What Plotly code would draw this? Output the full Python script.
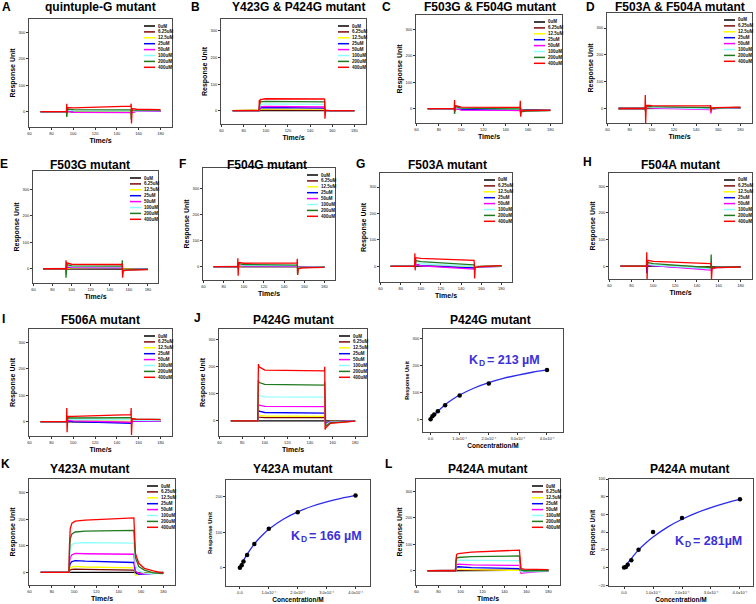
import plotly.graph_objects as go

W, H = 756, 604
FONT = "Liberation Sans, Arial, sans-serif"

# ---------------- data ----------------
CONC_LABELS = ["0uM", "6.25uM", "12.5uM", "25uM", "50uM", "100uM", "200uM", "400uM"]
LINE_COLORS = ["#000000", "#7a0a0a", "#ffff00", "#0000ff", "#ff00ff", "#8cffff", "#1f7a1f", "#ff0000"]

# time grids (s)
T_SPIKE = [70, 93.8, 94.1, 94.4, 95, 100, 152.8, 153.1, 153.4, 154, 158, 180]
T_KIN = [70, 95.4, 95.8, 96.5, 98, 101, 110, 153.6, 154.2, 155, 158, 163, 171, 180]

# response units, one row per concentration (0uM ... 400uM)
RU_QUINTUPLE_G = [
    [0, 0, 0, 0, 0, 0, -1, -1, -1, 0, 2, 3],
    [0, 0, 2, 0, 2, 2, 1, 1, 1, 1, 3, 4],
    [0, 0, 3, 1, 3, 2, 1, 1, 1, 1, 3, 4],
    [0, 0, 4, 1, 4, -2, -3, -3, -3, -2, 1, 2],
    [0, 0, 5, 0, 3, -3, -4, -6, -4, -2, 1, 2],
    [0, 0, 8, 0, 6, 4, 3, -5, 0, 2, 3, 4],
    [0, 0, -20, 10, 10, 8, 7, -30, 10, 6, 6, 6],
    [0, 0, 30, -5, 16, 14, 21, 30, -45, 12, 9, 8],
]
RU_Y423G_P424G = [
    [0, 0, 0, 0, 0, 0, 0, 0, 0, 0, 0, 0],
    [0, 0, 1, 2, 3, 3, 3, 3, 1, 0, 0, 0],
    [0, 0, 2, 4, 6, 6, 6, 6, 2, 0, 0, 0],
    [0, 0, 3, 6, 11, 12, 11, 10, 3, 0, 0, 0],
    [0, 0, 5, 8, 15, 16, 15, 14, 3, 0, 0, 0],
    [0, 0, 8, 12, 24, 26, 25, 24, 5, 0, 0, 0],
    [0, 0, 15, 20, 33, 35, 34, 33, 5, 1, 0, 0],
    [0, 0, 40, 25, 42, 45, 44, 46, -30, 2, 0, 0],
]
RU_F503G_F504G = [
    [0, 0, 0, 0, 1, 0, -1, -1, -1, -3, -4, -4],
    [0, 0, 1, 0, 2, 1, 0, 0, 0, -3, -4, -5],
    [0, 0, 2, 0, 3, 1, 0, 0, 0, -4, -5, -5],
    [0, 0, 3, 0, 2, -3, -5, -5, -5, -6, -6, -6],
    [0, 0, 4, 0, 2, -5, -7, -8, -7, -8, -7, -6],
    [0, 0, 6, -5, 4, 2, -2, -8, -5, -10, -8, -6],
    [0, 0, -20, 8, 8, 2, -1, -15, -10, -12, -9, -7],
    [0, 0, 33, -10, 12, 6, 5, 30, -30, -8, -7, -6],
]
RU_F503A_F504A = [
    [0, 0, 0, 0, 2, 1, 0, 0, 0, 0, 1, 2],
    [0, 0, 1, 0, 3, 2, 1, 1, 1, 0, 1, 2],
    [0, 0, 2, 0, 4, 3, 1, 1, 1, 0, 1, 3],
    [0, 0, 3, 0, 5, 3, 0, 12, -8, -2, 1, 3],
    [0, 0, 4, 0, 5, 2, -4, -5, -18, -4, 0, 3],
    [0, 0, 5, -5, 6, 4, -1, -3, -10, -3, 1, 3],
    [0, 0, -10, 10, 8, 7, 5, 3, -5, 0, 2, 4],
    [0, 0, 50, -55, 12, 11, 10, 5, -12, 1, 3, 5],
]
RU_F503G = [
    [0, 0, 0, 0, 0, 0, 0, 0, 0, -2, -2, -1],
    [0, 0, 1, 0, 2, 1, 1, 1, 1, -2, -2, -1],
    [0, 0, 2, 0, 3, 2, 2, 2, 2, -2, -2, -1],
    [0, 0, 3, 0, 6, 4, 3, 3, 0, -3, -3, -1],
    [0, 0, 4, 0, 8, 5, 4, 5, -2, -3, -3, -2],
    [0, 0, 6, 0, 12, 8, 7, 10, -5, -4, -3, -2],
    [0, 0, -34, 10, 16, 11, 10, 32, -20, -5, -4, -2],
    [0, 0, 32, -5, 22, 17, 16, 20, -34, -8, -5, -3],
]
RU_F504G = [
    [0, 0, 0, 0, 0, 0, 0, 0, 0, -1, -1, 0],
    [0, 0, 1, 0, 2, 1, 1, 1, 1, -2, -1, 0],
    [0, 0, 2, 0, 3, 2, 1, 1, 1, -2, -1, 0],
    [0, 0, 3, 0, 5, 3, 2, 2, 0, -3, -2, -1],
    [0, 0, 4, 0, 6, 3, 2, 3, -2, -3, -2, -1],
    [0, 0, 6, 0, 8, 5, 4, 6, -5, -4, -3, -1],
    [0, 0, 15, -10, 12, 8, 6, 10, -30, -6, -4, -2],
    [0, 0, 32, -35, 16, 13, 14, 30, -32, -8, -5, -3],
]
RU_F503A = [
    [0, 0, 0, 0, 2, 1, -1, -1, -1, -1, 0, 1],
    [0, 0, 1, 0, 4, 2, -1, -1, -1, -1, 0, 1],
    [0, 0, 2, 0, 6, 3, -2, -2, -2, -2, -1, 1],
    [0, 0, 3, 0, 8, 3, -6, -5, -5, -3, -2, 0],
    [0, 0, 10, -5, 8, 2, -10, -8, -8, -4, -2, 0],
    [0, 0, 8, 0, 16, 10, 0, 3, -5, -3, -1, 1],
    [0, 0, 15, 0, 22, 18, 6, 8, -10, -4, -1, 2],
    [0, 0, 50, -15, 33, 30, 23, 12, -46, -5, -1, 3],
]
RU_F504A = [
    [0, 0, 0, 0, 2, 1, -3, -3, -3, -3, -3, -3],
    [0, 0, 1, 0, 3, 2, -4, -4, -4, -4, -3, -3],
    [0, 0, 2, 0, 4, 2, -5, -5, -5, -4, -4, -3],
    [0, 0, -25, 5, 5, 1, -10, -10, -10, -6, -4, -3],
    [0, 0, 5, 0, 6, 2, -15, -15, -15, -8, -5, -3],
    [0, 0, 6, 0, 8, 4, -10, -10, -10, -6, -4, -3],
    [0, 0, 10, 0, 14, 10, -5, 44, -10, -5, -4, -2],
    [0, 0, 52, -50, 22, 18, 10, 12, -48, -8, -5, -3],
]
RU_F506A = [
    [0, 0, 0, 0, 0, 0, -2, -2, -2, 2, 3, 2],
    [0, 0, 1, 0, 3, 2, 0, 0, 0, 3, 4, 3],
    [0, 0, 2, 0, 4, 3, 1, 1, 1, 4, 4, 3],
    [0, 0, 3, 0, 3, 0, -6, -6, -6, 1, 2, 1],
    [0, 0, 4, 0, 5, 3, -2, -2, -2, 3, 3, 2],
    [0, 0, 6, 0, 10, 8, 8, 8, 8, 6, 5, 4],
    [0, 0, 10, 0, 15, 14, 15, 15, 15, 10, 9, 9],
    [0, 0, 52, -40, 20, 20, 27, 52, -50, 12, 10, 8],
]
RU_P424G = [
    [0, 0, 0, 0, 0, 0, 0, 0, 0, 0, 0, 0],
    [0, 0, 8, 15, 14, 12, 12, 12, 0, -2, -1, 0],
    [0, 0, 12, 22, 20, 18, 17, 17, 0, -4, -2, 0],
    [0, 0, 20, 40, 36, 31, 28, 29, -2, -6, -3, 0],
    [0, 0, 30, 60, 58, 54, 52, 53, -5, -10, -4, 0],
    [0, 0, 50, 97, 93, 89, 87, 88, -10, -14, -5, -1],
    [0, 0, 80, 150, 142, 135, 132, 145, -15, -20, -7, -1],
    [0, 0, 120, 210, 200, 188, 185, 200, -32, -26, -9, -1],
]
RU_Y423A = [
    [0, 0, 1, 2, 2, 2, 2, 1, 0, -6, -5, -3, -1, 0],
    [0, 0, 5, 9, 11, 12, 11, 8, 5, 0, -2, -2, -1, 0],
    [0, 0, 10, 17, 20, 22, 20, 17, 10, -12, -8, -4, -2, -1],
    [0, 0, 20, 33, 40, 44, 42, 37, 20, 0, -8, -6, -3, -2],
    [0, 0, 35, 55, 66, 71, 70, 68, 40, 5, -5, -6, -4, -3],
    [0, 0, 55, 90, 105, 110, 112, 110, 70, 25, 5, -3, -5, -5],
    [0, 0, 75, 125, 145, 152, 155, 158, 110, 55, 22, 8, -2, -5],
    [0, 0, 100, 165, 185, 193, 197, 205, 150, 71, 34, 15, 5, -3],
]
RU_P424A = [
    [0, 0, 0, 0, 0, 0, 0, 0, 0, 0, 1, 1, 2, 2],
    [0, 0, 2, 3, 3, 3, 2, 1, 0, -2, 0, 0, 1, 1],
    [0, 0, 3, 5, 5, 5, 4, 1, -5, -10, -3, -1, 0, 0],
    [0, 0, 8, 14, 15, 14, 12, 8, 3, -2, -2, -1, 0, 0],
    [0, 0, 14, 24, 25, 24, 22, 20, 5, -10, -8, -5, -3, -2],
    [0, 0, 22, 38, 40, 40, 39, 38, 15, -3, -4, -3, -2, -1],
    [0, 0, 30, 48, 50, 51, 53, 56, 20, 2, 0, 0, 0, 0],
    [0, 0, 40, 62, 65, 66, 70, 78, 30, 8, 6, 5, 5, 4],
]

# steady-state binding (concentration in M)
CONC_M = [0, 6.25e-6, 12.5e-6, 25e-6, 50e-6, 100e-6, 200e-6, 400e-6]
EQ_P424G = [0, 11, 17, 30, 52, 88, 133, 184]
EQ_Y423A = [0, 7, 17, 36, 67, 110, 157, 204]
EQ_P424A = [0, 0.5, 3, 8, 20, 40, 56, 77]

FIT_X = [5e-6, 10e-6, 20e-6, 40e-6, 60e-6, 80e-6, 100e-6, 150e-6, 200e-6, 250e-6, 300e-6, 350e-6, 400e-6]
FIT_P424G = [6.5, 12.6, 24.2, 44.6, 62, 77, 90.1, 116.5, 136.6, 152.3, 164.9, 175.3, 184]
FIT_Y423A = [8.4, 16.4, 31, 56, 76.7, 94, 108.6, 137, 158, 173.7, 186, 196, 204.3]
FIT_P424A_X = [10e-6, 25e-6, 50e-6, 75e-6, 100e-6, 150e-6, 200e-6, 250e-6, 300e-6, 350e-6, 400e-6]
FIT_P424A = [4, 10, 19.8, 27.6, 34.4, 45.6, 54.5, 61.7, 67.6, 72.7, 76.9]

KD_P424G = "= 213 µM"
KD_Y423A = "= 166 µM"
KD_P424A = "= 281µM"

TIME_TICKS = [60, 80, 100, 120, 140, 160, 180]
RU_TICKS = [0, 100, 200, 300]
CONC_TICKS = [0, 1e-4, 2e-4, 3e-4, 4e-4]
CONC_TICKTEXT = ["0.0", "1.0x10⁻⁴", "2.0x10⁻⁴", "3.0x10⁻⁴", "4.0x10⁻⁴"]

# ---------------- layout specs (pixels) ----------------
# letter, title, data, time grid, frame (l,t,r,b), y range, title xy, letter xy
SENSORGRAMS = [
    ("A", "quintuple-G mutant", RU_QUINTUPLE_G, T_SPIKE, (29, 19, 172, 127), [-58, 350], (100, 7.5), (6, 7)),
    ("B", "Y423G & P424G mutant", RU_Y423G_P424G, T_SPIKE, (221, 19, 366, 124), [-50, 345], (298, 7.5), (195, 7)),
    ("C", "F503G & F504G mutant", RU_F503G_F504G, T_SPIKE, (416, 15, 562, 123), [-54, 354], (490, 7.5), (386, 7)),
    ("D", "F503A & F504A mutant", RU_F503A_F504A, T_SPIKE, (607, 13, 752, 123), [-54, 356], (680, 7.5), (590, 7)),
    ("E", "F503G mutant", RU_F503G, T_SPIKE, (33, 171, 158, 283), [-54, 370], (90, 165), (4, 164)),
    ("F", "F504G mutant", RU_F504G, T_SPIKE, (203, 168, 335, 280), [-51, 377], (267, 165), (182, 164)),
    ("G", "F503A mutant", RU_F503A, T_SPIKE, (380, 173, 512, 282), [-59, 353], (447, 165), (360, 164)),
    ("H", "F504A mutant", RU_F504A, T_SPIKE, (609, 173, 752, 279), [-48, 350], (680, 165), (587, 162)),
    ("I", "F506A mutant", RU_F506A, T_SPIKE, (29, 329, 172, 436), [-54, 350], (100, 319.5), (3, 319)),
    ("J", "P424G mutant", RU_P424G, T_SPIKE, (219, 329, 367, 436), [-56, 340], (293, 319.5), (197, 318)),
    ("K", "Y423A mutant", RU_Y423A, T_KIN, (29, 479, 175, 585), [-48, 352], (90, 468.5), (5, 464)),
    ("L", "P424A mutant", RU_P424A, T_KIN, (416, 479, 560, 585), [-54, 347], (488, 468.5), (388, 464)),
]
# title, points, fit x, fit y, KD, frame, x range, y range, y ticks, title xy, KD left/middle, ylabel size
FITS = [
    ("P424G mutant", EQ_P424G, FIT_X, FIT_P424G, KD_P424G, (423, 329, 563, 432), [-0.26e-4, 4.55e-4], [-48, 337], [0, 100, 200, 300], (490, 319.5), (467, 360), 5.5),
    ("Y423A mutant", EQ_Y423A, FIT_X, FIT_Y423A, KD_Y423A, (226, 480, 370, 586), [-0.48e-4, 4.5e-4], [-52, 248], [0, 100, 200], (293, 468.5), (289, 536), 6),
    ("P424A mutant", EQ_P424A, FIT_P424A_X, FIT_P424A, KD_P424A, (609, 479, 753, 586), [-0.52e-4, 4.45e-4], [-21, 100], [-20, 0, 20, 40, 60, 80, 100], (690, 468.5), (673, 541), 6.5),
]


def px(x):
    return x / W


def py(y):
    return 1 - y / H


fig = go.Figure()
annotations, shapes, axes = [], [], {}

AX_STYLE = dict(showline=True, linecolor="#4a4a4a", linewidth=1, mirror=True,
                ticks="outside", ticklen=2, tickwidth=0.7, tickcolor="#333",
                tickfont=dict(size=4, family=FONT, color="#222"),
                showgrid=False, zeroline=False, fixedrange=True, automargin=False)


def add_axes(idx, frame, xr, yr, xticks, xtext, yticks, xtitle, xts, ytitle, yts):
    l, t, r, b = frame
    sx = "" if idx == 1 else str(idx)
    axes["xaxis" + sx] = dict(domain=[px(l), px(r)], range=xr, anchor="y" + sx,
                              tickvals=xticks, ticktext=xtext,
                              title=dict(text=f"<b>{xtitle}</b>", standoff=3,
                                         font=dict(size=xts, family=FONT, color="#000")),
                              **AX_STYLE)
    axes["yaxis" + sx] = dict(domain=[py(b), py(t)], range=yr, anchor="x" + sx,
                              tickvals=yticks,
                              title=dict(text=f"<b>{ytitle}</b>", standoff=2,
                                         font=dict(size=yts, family=FONT, color="#000")),
                              **AX_STYLE)
    return "x" + sx, "y" + sx


def text(s, x, y, size, color="#000", bold=True, xanchor="center"):
    annotations.append(dict(text=f"<b>{s}</b>" if bold else s, x=px(x), y=py(y), xref="paper", yref="paper",
                            xanchor=xanchor, yanchor="middle", showarrow=False,
                            font=dict(size=size, family=FONT, color=color)))


idx = 0
for letter, title, data, tgrid, frame, yr, txy, lxy in SENSORGRAMS:
    idx += 1
    xa, ya = add_axes(idx, frame, [59.5, 190.5], yr, TIME_TICKS, [str(v) for v in TIME_TICKS], RU_TICKS,
                      "Time/s", 7, "Response Unit", 7)
    for lab, col, vals in zip(CONC_LABELS, LINE_COLORS, data):
        fig.add_trace(go.Scatter(x=tgrid, y=vals, mode="lines", name=lab, showlegend=False,
                                 line=dict(color=col, width=1.3), xaxis=xa, yaxis=ya))
    l, t, r, b = frame
    text(title, txy[0], txy[1], 12)
    text(letter, lxy[0], lxy[1], 12)
    for k, (lab, col) in enumerate(zip(CONC_LABELS, LINE_COLORS)):
        yy = t + 7 + k * 5.9
        shapes.append(dict(type="line", xref="paper", yref="paper", x0=px(r - 28), x1=px(r - 17),
                           y0=py(yy), y1=py(yy), line=dict(color=col, width=1.5)))
        text(lab, r - 16.5, yy, 4.5, color="#111", xanchor="left")

KD_COLOR = "#3b30d9"
for title, pts, fx, fy, kd, frame, xr, yr, yticks, txy, kxy, yls in FITS:
    idx += 1
    xa, ya = add_axes(idx, frame, xr, yr, CONC_TICKS, CONC_TICKTEXT, yticks,
                      "Concentration/M", 6.5, "Response Unit", yls)
    fig.add_trace(go.Scatter(x=fx, y=fy, mode="lines", line=dict(color="#2a2aee", width=1.3, shape="spline"),
                             showlegend=False, xaxis=xa, yaxis=ya))
    fig.add_trace(go.Scatter(x=CONC_M, y=pts, mode="markers", marker=dict(color="#000", size=4.5),
                             showlegend=False, xaxis=xa, yaxis=ya))
    text(title, txy[0], txy[1], 12)
    kx, ky = kxy
    text("K", kx, ky, 12.5, color=KD_COLOR, xanchor="left")
    text("D", kx + 9.5, ky + 2.5, 8.5, color=KD_COLOR, xanchor="left")
    text(kd, kx + 18, ky, 12.5, color=KD_COLOR, xanchor="left")

fig.update_layout(width=W, height=H, margin=dict(l=0, r=0, t=0, b=0),
                  paper_bgcolor="white", plot_bgcolor="white", showlegend=False,
                  annotations=annotations, shapes=shapes, **axes)
fig.write_html("out.html", config={"displayModeBar": False},
               post_script="document.body.style.margin='0px';document.body.style.padding='0px';")
